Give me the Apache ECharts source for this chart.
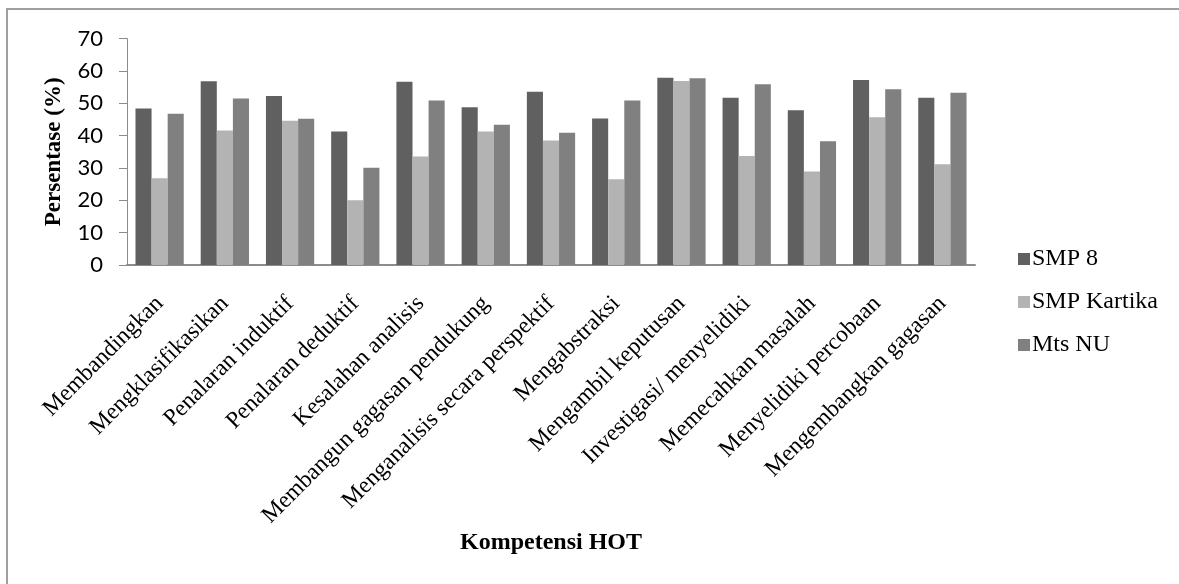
<!DOCTYPE html>
<html>
<head>
<meta charset="utf-8">
<script src="https://cdn.jsdelivr.net/npm/echarts@6/dist/echarts.min.js"></script>
<style>
html,body{margin:0;padding:0;background:#fff;overflow:hidden;}
#frame{position:absolute;left:6px;top:8px;width:1300px;height:700px;border-left:2px solid #a0a0a0;border-top:2px solid #a0a0a0;}
#chart{position:absolute;left:0;top:0;width:1179px;height:584px;}
</style>
</head>
<body>
<div id="frame"></div>
<div id="chart"></div>
<script>
const categories = ["Membandingkan","Mengklasifikasikan","Penalaran induktif","Penalaran deduktif","Kesalahan analisis","Membangun gagasan pendukung","Menganalisis secara perspektif","Mengabstraksi","Mengambil keputusan","Investigasi/ menyelidiki","Memecahkan masalah","Menyelidiki percobaan","Mengembangkan gagasan"];
const smp8 = [48.4,56.8,52.3,41.3,56.7,48.8,53.6,45.3,57.9,51.7,47.9,57.2,51.7];
const smpKartika = [26.8,41.6,44.6,20.0,33.6,41.3,38.5,26.5,56.9,33.7,28.9,45.7,31.2];
const mtsNU = [46.8,51.5,45.2,30.1,50.9,43.4,40.9,50.9,57.8,55.9,38.3,54.4,53.3];
const seriesNames = ["SMP 8","SMP Kartika","Mts NU"];
const yTicks = {min:0,max:70,interval:10};

const chart = echarts.init(document.getElementById('chart'));
const serif = "'Liberation Serif','Times New Roman',serif";
chart.setOption({
  animation:false,
  backgroundColor:'transparent',
  color:['#606060','#b3b3b3','#808080'],
  grid:{left:127,top:38.7,right:204,bottom:319,containLabel:false},
  legend:{
    orient:'vertical',left:1013,top:242,itemWidth:12,itemHeight:12,itemGap:19,
    icon:'rect',
    textStyle:{fontFamily:serif,fontSize:24,color:'#000',padding:[0,0,0,-3]},
    data:seriesNames
  },
  xAxis:{
    type:'category',data:categories,
    axisLine:{lineStyle:{color:'#8c8c8c',width:2}},
    axisTick:{show:false},
    axisLabel:{interval:0,rotate:45,fontFamily:serif,fontSize:23.5,color:'#000',margin:35},
    name:'Kompetensi HOT',nameLocation:'middle',nameGap:265,
    nameTextStyle:{fontFamily:serif,fontSize:24,fontWeight:'bold',color:'#000'}
  },
  yAxis:{
    type:'value',min:yTicks.min,max:yTicks.max,interval:yTicks.interval,
    axisLine:{show:true,lineStyle:{color:'#8c8c8c',width:1}},
    axisTick:{show:true,inside:false,length:8,lineStyle:{color:'#8c8c8c'}},
    splitLine:{show:false},
    axisLabel:{fontFamily:"Lato,'Open Sans',sans-serif",fontSize:22,color:'#000',margin:24},
    name:'Persentase (%)',nameLocation:'middle',nameGap:61,
    nameTextStyle:{fontFamily:serif,fontSize:23,fontWeight:'bold',color:'#000'}
  },
  series:[
    {name:seriesNames[0],type:'bar',data:smp8,barGap:'0%',barCategoryGap:'26%'},
    {name:seriesNames[1],type:'bar',data:smpKartika,barGap:'0%',barCategoryGap:'26%'},
    {name:seriesNames[2],type:'bar',data:mtsNU,barGap:'0%',barCategoryGap:'26%'}
  ]
});
</script>
</body>
</html>
